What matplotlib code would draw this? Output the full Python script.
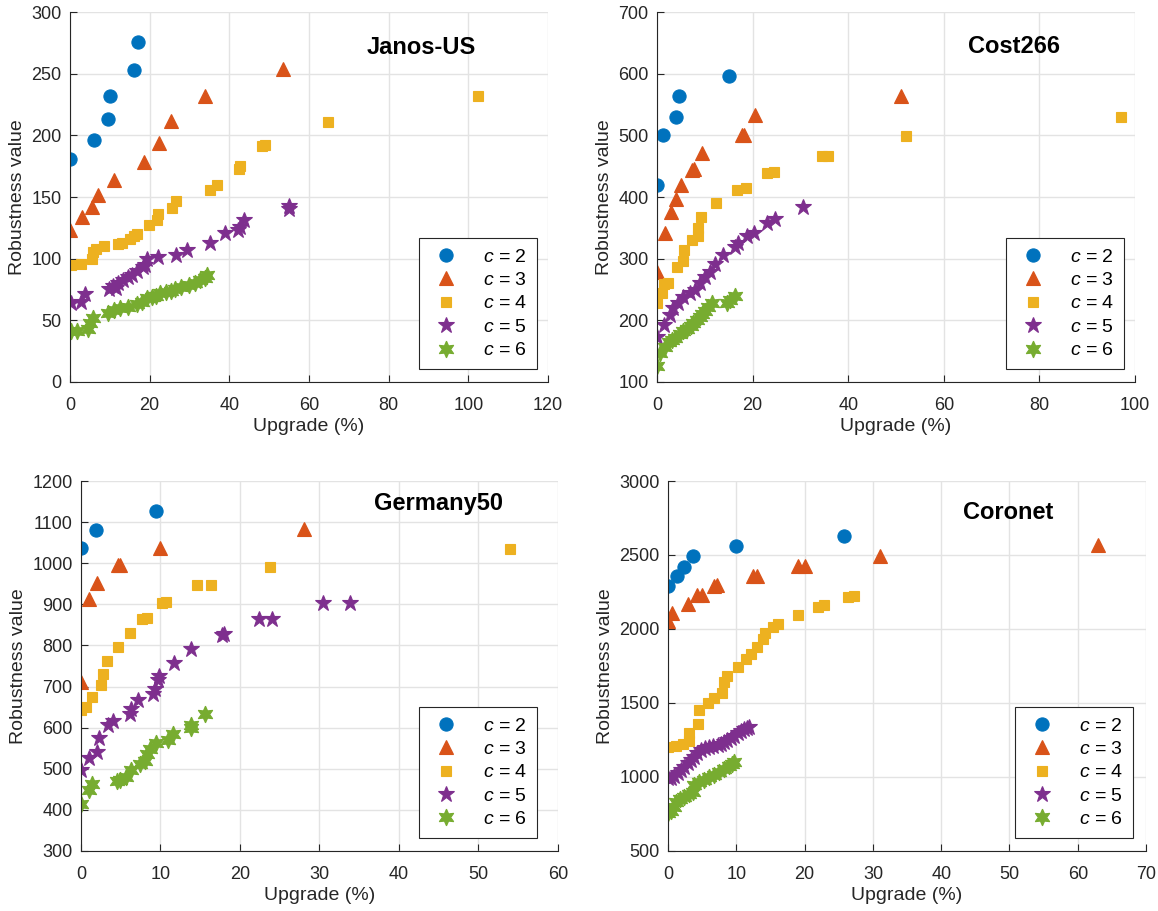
import numpy as np
import matplotlib
matplotlib.use("Agg")
import matplotlib.pyplot as plt

plt.rcParams['font.family'] = ['Liberation Sans', 'DejaVu Sans']
plt.rcParams['mathtext.fontset'] = 'custom'
plt.rcParams['mathtext.it'] = 'Liberation Sans:italic'
plt.rcParams['mathtext.rm'] = 'Liberation Sans'

# ---- data ----
# Janos-US
jan_x2 = [0, 6, 9.6, 10, 16, 17]
jan_y2 = [181, 196, 213, 232, 253, 276]
jan_x3 = [0, 3, 5.5, 7, 11, 18.5, 22.3, 25.4, 34, 53.5]
jan_y3 = [123, 134, 142, 152, 164, 178, 194, 212, 232, 254]
jan_x4 = [0.3, 2.8, 5.5, 5.8, 6.5, 8.6, 12, 13, 15, 16, 16.9, 19.8, 21.8, 22.1,
          25.6, 26.6, 35.2, 37, 42.5, 42.7, 48.2, 49, 64.8, 102.5]
jan_y4 = [95, 96, 100, 105, 108, 110, 112, 113, 116, 118, 120, 127, 131, 136,
          141, 147, 156, 160, 173, 175, 191, 192, 211, 232]
jan_x5 = [0.3, 2.8, 3.8, 9.8, 10.8, 11.5, 12, 13.3, 14.6, 15.5, 16.8, 18.3, 18.8, 19.4,
          22.2, 26.6, 29.3, 35.2, 39, 42.2, 42.7, 43.7, 55, 55]
jan_y5 = [64, 65, 71, 75, 78, 76, 80, 83, 85, 87, 90, 93, 95, 100,
          101, 103, 107, 113, 121, 123, 126, 131, 140, 143]
jan_x6 = [0.3, 1.7, 4.5, 5, 5.8, 9.6, 11, 12.6, 14.5, 16.8, 18, 19.4, 20.5, 21.5,
          22.6, 24, 25.3, 26.4, 28, 30, 31.3, 32.7, 34, 34.4]
jan_y6 = [41, 41, 43, 48, 52, 56, 58, 60, 61, 63, 65, 68, 69, 70,
          72, 73, 74, 75, 77, 79, 80, 83, 84, 87]

# Cost266
cos_x2 = [0, 1.3, 4.0, 4.6, 15]
cos_y2 = [420, 500, 529, 563, 597]
cos_x3 = [0, 1.7, 2.9, 4, 5, 7.3, 7.8, 9.4, 17.8, 18.2, 20.5, 51]
cos_y3 = [278, 341, 376, 397, 419, 444, 445, 471, 500, 500, 533, 563]
cos_x4 = [0, 1, 1.5, 2.3, 4.2, 5.5, 5.7, 7.3, 8.6, 8.6, 9.2, 12.4, 16.8, 18.7,
          23, 24.5, 34.6, 35.8, 52, 97]
cos_y4 = [228, 244, 259, 260, 287, 296, 314, 330, 337, 350, 367, 390, 411, 414,
          439, 440, 467, 467, 499, 529]
cos_x5 = [0, 1.5, 2.7, 3.4, 4.4, 5.5, 6.9, 8, 9, 10, 11.1, 12.2, 13.8, 16.4,
          17, 18.9, 20.2, 22.9, 24.7, 30.6]
cos_y5 = [173, 192, 209, 220, 228, 238, 244, 249, 260, 270, 278, 291, 306, 319,
          325, 337, 342, 358, 364, 383]
cos_x6 = [0, 0.6, 1.7, 2.6, 3.2, 3.8, 4.8, 5.5, 6.3, 7, 7.6, 8.3, 9, 9.5, 10,
          10.7, 11.5, 14.6, 15.3, 16.3]
cos_y6 = [126, 147, 157, 165, 168, 171, 178, 182, 186, 191, 196, 200, 205, 210, 215,
          221, 228, 228, 233, 239]

# Germany50
ger_x2 = [0, 1.9, 9.4]
ger_y2 = [1036, 1082, 1128]
ger_x3 = [0, 1, 2, 4.7, 4.9, 10, 28]
ger_y3 = [712, 912, 951, 995, 995, 1038, 1084]
ger_x4 = [0, 0.6, 1.4, 2.5, 2.8, 3.3, 4.7, 6.2, 7.7, 8.3, 10.2, 10.7, 14.6, 16.4, 23.8, 54]
ger_y4 = [643, 650, 675, 703, 730, 762, 796, 830, 865, 867, 904, 906, 946, 946, 990, 1035]
ger_x5 = [0, 1, 2, 2.3, 3.4, 4, 6.2, 6.3, 7.2, 9.1, 9.3, 9.7, 9.8, 11.7, 13.8,
          17.7, 18, 22.4, 24, 30.4, 33.8]
ger_y5 = [496, 526, 540, 574, 606, 616, 633, 645, 667, 682, 694, 717, 725, 757, 791,
          825, 827, 864, 864, 904, 904]
ger_x6 = [0, 1, 1.4, 4.5, 4.9, 5.7, 6.3, 7.4, 8, 8.3, 8.7, 9.5, 11, 11.6, 13.8, 13.8, 15.6]
ger_y6 = [414, 448, 462, 470, 472, 479, 496, 511, 518, 535, 548, 562, 569, 584, 599, 607, 633]

# Coronet
cor_x2 = [0, 1.3, 2.4, 3.6, 10, 25.7]
cor_y2 = [2290, 2355, 2420, 2490, 2560, 2630]
cor_x3 = [0, 0.6, 2.9, 4.2, 5, 6.7, 7.2, 12.4, 13, 19, 20, 31, 63]
cor_y3 = [2055, 2105, 2170, 2230, 2230, 2290, 2295, 2360, 2360, 2425, 2425, 2495, 2570]
cor_x4 = [0, 1.1, 2.2, 3.0, 3.1, 4.4, 4.6, 5.9, 6.7, 7.9, 8.2, 8.6, 10.2, 11.4, 12.1,
          13, 13.9, 14.2, 15.3, 16.1, 19, 21.9, 22.9, 26.3, 27.2]
cor_y4 = [1200, 1206, 1225, 1240, 1300, 1360, 1450, 1500, 1535, 1570, 1645, 1685, 1740,
          1795, 1830, 1875, 1935, 1975, 2015, 2035, 2095, 2150, 2160, 2215, 2220]
cor_x5 = [0, 0.5, 0.9, 1.4, 1.9, 2.4, 2.9, 3.3, 3.8, 4.3, 4.8, 5.4, 6, 6.6, 7.3, 7.7,
          8.2, 8.7, 9.2, 9.7, 10.2, 10.7, 11.1, 11.5, 11.8]
cor_y5 = [990, 995, 1005, 1025, 1045, 1070, 1095, 1115, 1135, 1160, 1180, 1195, 1205,
          1210, 1216, 1225, 1236, 1250, 1264, 1280, 1297, 1310, 1324, 1330, 1338]
cor_x6 = [0, 0.4, 0.8, 1.2, 1.8, 2.4, 3.0, 3.6, 3.8, 4.5, 5.3, 6.0, 6.7, 7.4, 8.2, 8.9, 9.3, 9.7]
cor_y6 = [757, 770, 800, 831, 848, 865, 882, 899, 946, 963, 980, 997, 1014, 1032, 1054,
          1075, 1088, 1101]

c_values = [2, 3, 4, 5, 6]
colores = ['#0072BD', '#D95319', '#EDB120', '#7E2F8E', '#77AC30']
marcadores = ['o', '^', 's', '*', (6, 1, 0)]
tamanos = [9.5, 10.5, 7, 12, 12]

paneles = [
    ("Janos-US", [(jan_x2, jan_y2), (jan_x3, jan_y3), (jan_x4, jan_y4), (jan_x5, jan_y5), (jan_x6, jan_y6)],
     (0, 120), (0, 300), [0.0604, 0.5807, 0.4128, 0.4061], (0.734, 0.905), (0.977, 0.035)),
    ("Cost266", [(cos_x2, cos_y2), (cos_x3, cos_y3), (cos_x4, cos_y4), (cos_x5, cos_y5), (cos_x6, cos_y6)],
     (0, 100), (100, 700), [0.5674, 0.5807, 0.4128, 0.4061], (0.747, 0.908), (0.977, 0.035)),
    ("Germany50", [(ger_x2, ger_y2), (ger_x3, ger_y3), (ger_x4, ger_y4), (ger_x5, ger_y5), (ger_x6, ger_y6)],
     (0, 60), (300, 1200), [0.0699, 0.0659, 0.4119, 0.4061], (0.75, 0.94), (0.956, 0.035)),
    ("Coronet", [(cor_x2, cor_y2), (cor_x3, cor_y3), (cor_x4, cor_y4), (cor_x5, cor_y5), (cor_x6, cor_y6)],
     (0, 70), (500, 3000), [0.5769, 0.0659, 0.4128, 0.4061], (0.711, 0.916), (0.973, 0.035)),
]

fig = plt.figure(figsize=(11.58, 9.11), dpi=100)

for nombre, series, xl, yl, pos, tpos, lpos in paneles:
    ax = fig.add_axes(pos)
    for i, (xs, ys) in enumerate(series):
        ax.plot(xs, ys, linestyle='none', marker=marcadores[i], color=colores[i],
                markersize=tamanos[i], markeredgewidth=0.8,
                label=r'$c$ = ' + str(c_values[i]))
    ax.set_xlim(xl)
    ax.set_ylim(yl)
    ax.grid(True, color='#e3e3e3', linewidth=1)
    ax.set_axisbelow(True)
    for s in ['top', 'right']:
        ax.spines[s].set_visible(False)
    for s in ['left', 'bottom']:
        ax.spines[s].set_color('#262626')
    ax.tick_params(direction='in', length=5, labelsize=13, colors='#262626')
    ax.tick_params(axis='x', pad=11)
    ax.tick_params(axis='y', pad=6)
    ax.set_xlabel('Upgrade (%)', fontsize=14, color='#262626', labelpad=3)
    ax.set_ylabel('Robustness value', fontsize=14, color='#262626', labelpad=4)
    ax.text(tpos[0], tpos[1], nombre, transform=ax.transAxes, ha='center', va='center',
            fontsize=17, fontweight='bold')
    leg = ax.legend(loc='lower right', bbox_to_anchor=lpos, fontsize=14, numpoints=1,
                    fancybox=False, framealpha=1, edgecolor='#262626',
                    borderpad=0.5, labelspacing=0.3, handletextpad=1.0, handlelength=1.8,
                    borderaxespad=0)
    leg.get_frame().set_linewidth(0.8)

fig.savefig('out.png', dpi=100)
